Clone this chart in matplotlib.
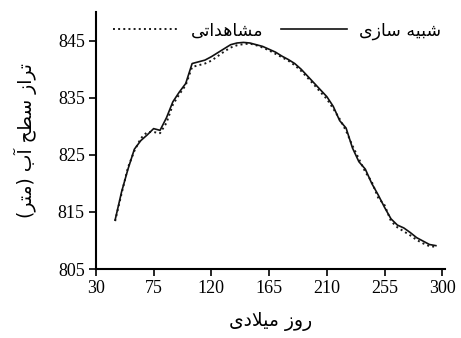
import matplotlib
matplotlib.use("Agg")
import matplotlib.pyplot as plt

# days (gregorian) and water level (m)
days = [45, 50, 55, 60, 65, 70, 75, 80, 85, 90, 95, 100, 105, 110, 115, 120, 125,
        130, 135, 140, 145, 150, 155, 160, 165, 170, 175, 180, 185, 190, 195, 200,
        205, 210, 215, 220, 225, 230, 235, 240, 245, 250, 255, 260, 265, 270, 275,
        280, 285, 290, 295]
simulated = [813.6, 818.5, 822.5, 826.0, 827.5, 828.5, 829.6, 829.3, 831.5, 834.3,
             836.0, 837.5, 841.0, 841.3, 841.6, 842.2, 842.9, 843.6, 844.3, 844.6,
             844.7, 844.6, 844.3, 844.0, 843.5, 843.0, 842.3, 841.7, 841.0, 840.0,
             838.8, 837.6, 836.4, 835.2, 833.5, 831.0, 829.7, 826.2, 823.8, 822.5,
             820.0, 818.0, 815.8, 813.8, 812.7, 812.2, 811.4, 810.5, 809.9, 809.3,
             809.1]
observed = [813.4, 818.2, 822.8, 825.7, 827.9, 829.0, 829.0, 828.8, 830.6, 833.8,
            835.6, 837.2, 840.4, 840.7, 841.0, 841.5, 842.3, 843.1, 843.8, 844.2,
            844.4, 844.5, 844.2, 843.8, 843.3, 842.7, 842.1, 841.5, 840.7, 839.7,
            838.5, 837.3, 836.0, 834.8, 833.1, 831.3, 829.2, 826.6, 824.3, 822.0,
            820.3, 817.5, 816.2, 813.4, 812.3, 811.6, 810.9, 810.1, 809.5, 809.0,
            808.9]
xticks = [30, 75, 120, 165, 210, 255, 300]
yticks = [805, 815, 825, 835, 845]


def rtl(s):
    # shaped persian text -> visual order for matplotlib (no bidi support)
    return s[::-1].translate(str.maketrans("()", ")("))


sim_label = rtl("\uFEB7\uFE92\uFEF4\uFEEA \uFEB3\uFE8E\uFEAF\uFEEF")
obs_label = rtl("\uFEE3\uFEB8\uFE8E\uFEEB\uFEAA\uFE8D\uFE97\uFEF0")
ylab = rtl("\uFE97\uFEAE\uFE8D\uFEAF \uFEB3\uFEC4\uFEA2 \uFE81\uFE8F (\uFEE3\uFE98\uFEAE)")
xlab = rtl("\uFEAD\uFEED\uFEAF \uFEE3\uFEF4\uFEFC\uFEA9\uFEEF")

fa = ["DejaVu Sans"]
num = ["Liberation Serif", "DejaVu Serif"]

fig = plt.figure(figsize=(4.61, 3.38), dpi=100)
ax = fig.add_axes([0.208, 0.204, 0.757, 0.76])

ax.plot(days, observed, color="#1a1a1a", linestyle=":", linewidth=1.4, label=obs_label)
ax.plot(days, simulated, color="#111111", linestyle="-", linewidth=1.2, label=sim_label)

ax.set_xlim(30, 302)
ax.set_ylim(805, 850)
ax.set_xticks(xticks)
ax.set_yticks(yticks)
for lab in ax.get_xticklabels() + ax.get_yticklabels():
    lab.set_family(num)
    lab.set_fontsize(13)

ax.spines["top"].set_visible(False)
ax.spines["right"].set_visible(False)
ax.spines["left"].set_linewidth(1.5)
ax.spines["bottom"].set_linewidth(1.5)
ax.tick_params(direction="out", length=5, width=1.2, pad=3)

ax.set_xlabel(xlab, family=fa, fontsize=13.5, labelpad=11)
ax.set_ylabel(ylab, family=fa, fontsize=13.5, labelpad=15)

ax.legend(loc="upper right", bbox_to_anchor=(1.035, 1.025), ncol=2, frameon=False,
          prop={"family": fa, "size": 12.5}, handlelength=3.8, columnspacing=1.0,
          handletextpad=0.7)

fig.savefig("out.png", dpi=100)
